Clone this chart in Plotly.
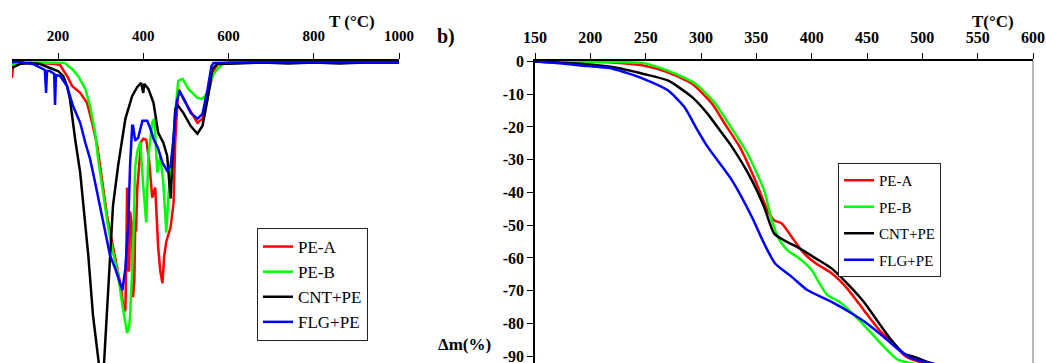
import plotly.graph_objects as go

W, H = 1046, 363


def fx(px):
    return px / W


def fy(py):
    return 1 - py / H


# ---------------- DTG (left panel), arbitrary units ----------------
dtg_red_T = [92, 95, 111, 158, 193, 205, 212, 221, 233, 252, 268, 280, 292, 304, 315, 327, 339, 348, 353, 358,
             360, 362, 365, 367, 369, 374, 376, 379, 381, 383, 386, 391, 395, 400, 407, 414, 421, 428, 435, 440,
             445, 449, 454, 464, 471, 475, 480, 482, 494, 511, 527, 539, 551, 565, 574, 605, 700, 800, 900, 1000]
dtg_red_v = [-1.6, -0.2, -0.1, -0.1, -0.2, -0.3, -0.8, -1.4, -2.4, -3.1, -4.1, -6.1, -8.4, -12.1, -15.4, -18.1, -20.7, -22.7, -24.6, -25.0,
             -20.0, -12.6, -21.0, -20.9, -15.0, -16.6, -23.6, -22.0, -16.6, -17.0, -12.6, -9.5, -8.0, -7.7, -7.8, -10.0, -13.6, -12.6, -18.6, -21.0,
             -22.2, -19.5, -18.0, -16.6, -14.2, -8.0, -3.5, -2.7, -3.7, -4.9, -6.1, -5.7, -3.4, -0.9, -0.2, -0.05, -0.05, -0.05, -0.05, -0.05]

dtg_green_T = [92, 111, 158, 200, 216, 224, 233, 247, 264, 275, 287, 294, 306, 318, 329, 341, 350, 358, 362, 367,
               369, 376, 381, 386, 393, 400, 407, 412, 421, 426, 433, 440, 447, 454, 459, 468, 475, 482, 492, 506,
               527, 539, 551, 562, 574, 586, 605, 700, 800, 900, 1000]
dtg_green_v = [-0.3, -0.1, -0.05, -0.05, -0.1, -0.4, -0.7, -1.4, -2.7, -4.4, -7.1, -9.7, -13.4, -16.7, -19.1, -21.4, -24.1, -26.1, -27.2, -26.5,
               -25.5, -19.0, -10.5, -9.0, -8.0, -12.5, -16.1, -9.4, -6.1, -5.7, -11.1, -9.4, -12.1, -17.1, -13.4, -9.4, -5.1, -1.9, -1.7, -2.7,
               -3.6, -3.7, -3.1, -1.4, -0.7, -0.2, -0.05, -0.0, -0.0, -0.0, -0.0]

dtg_black_T = [92, 111, 134, 158, 181, 200, 212, 221, 228, 240, 252, 264, 271, 282, 292, 299, 308, 313, 320, 329,
               341, 358, 374, 386, 395, 400, 402, 412, 424, 435, 447, 456, 464, 471, 475, 482, 494, 511, 527, 539,
               551, 562, 574, 620, 680, 740, 800, 860, 920, 1000]
dtg_black_v = [-0.6, -0.2, -0.1, -0.2, -0.6, -0.9, -1.4, -2.4, -3.7, -7.7, -11.1, -16.1, -19.4, -25.4, -28.7, -31.4, -30.2, -26.1, -20.7, -14.4,
               -10.4, -5.7, -3.4, -2.5, -2.1, -3.1, -2.2, -2.7, -4.1, -7.1, -8.1, -9.4, -13.7, -7.7, -4.7, -4.4, -5.1, -6.4, -7.2, -6.4,
               -3.7, -0.7, -0.2, -0.15, -0.05, -0.15, -0.05, -0.15, -0.05, -0.05]

dtg_blue_T = [92, 111, 141, 165, 169, 172, 174, 181, 191, 193, 195, 205, 221, 235, 252, 264, 275, 287, 299, 311,
              322, 334, 346, 351, 358, 365, 369, 374, 376, 381, 388, 398, 409, 416, 424, 435, 445, 456, 464, 471,
              478, 485, 494, 511, 527, 539, 551, 560, 565, 700, 850, 1000]
dtg_blue_v = [0.0, 0.0, -0.2, -0.7, -0.8, -3.1, -0.9, -0.9, -1.2, -4.3, -1.3, -1.4, -2.4, -4.4, -6.1, -8.1, -9.7, -12.1, -14.7, -17.4,
              -19.4, -20.7, -22.4, -22.9, -20.7, -16.1, -10.4, -6.4, -6.4, -7.9, -7.6, -5.9, -5.9, -6.6, -7.7, -8.7, -10.1, -10.9, -10.4, -7.7,
              -4.1, -2.9, -3.6, -5.1, -5.7, -5.2, -2.7, -0.4, -0.1, 0.0, 0.0, 0.0]

# ---------------- TG (right panel), mass change in % ----------------
tg_red_T = [150, 200, 220, 248, 270, 292, 310, 322, 335, 349, 360, 366, 373, 382, 393, 404, 418, 432, 447, 461,
            476, 485, 497, 510, 530, 560, 600]
tg_red_v = [0, -0.1, -0.3, -1.2, -3.3, -6.8, -12.9, -19.3, -26.1, -36.3, -45.4, -48.5, -49.5, -53.6, -58.6, -61.7, -64.7, -69.3, -75.9, -82.0,
            -87.1, -90.1, -91.7, -92.5, -93.5, -94.5, -95.0]

tg_green_T = [150, 220, 248, 270, 295, 313, 326, 342, 357, 364, 371, 378, 389, 400, 407, 414, 425, 440, 454, 468,
              477, 490, 510, 530, 560, 600]
tg_green_v = [0, -0.1, -0.5, -2.8, -6.8, -12.9, -19.5, -28.1, -39.3, -48.5, -54.6, -57.6, -60.2, -63.7, -67.8, -71.3, -73.4, -78.0, -83.0, -88.1,
              -90.9, -92.2, -93.0, -94.0, -95.0, -95.5]

tg_black_T = [150, 191, 220, 248, 270, 292, 306, 317, 328, 346, 357, 366, 375, 389, 404, 418, 432, 447, 461, 472,
              483, 494, 508, 530, 560, 600]
tg_black_v = [0, -0.7, -1.7, -3.8, -5.8, -10.9, -16.0, -21.0, -26.1, -36.3, -44.4, -52.5, -54.6, -57.1, -60.2, -63.2, -67.8, -73.4, -80.0, -85.1,
              -89.1, -90.4, -92.2, -93.5, -94.5, -95.0]

tg_blue_T = [150, 175, 191, 220, 248, 270, 285, 296, 306, 328, 346, 357, 367, 382, 396, 418, 436, 450, 465, 479,
             490, 508, 530, 560, 600]
tg_blue_v = [0, -0.6, -1.2, -2.2, -5.3, -8.8, -13.9, -20.5, -26.1, -36.3, -47.5, -55.6, -61.7, -65.8, -69.8, -73.4, -76.9, -80.0, -84.1, -88.1,
             -90.6, -92.2, -93.5, -94.5, -95.0]

names = ["PE-A", "PE-B", "CNT+PE", "FLG+PE"]
colors = ["#FF0000", "#00FF00", "#000000", "#0000FF"]

dtg_series = [(dtg_red_T, dtg_red_v), (dtg_green_T, dtg_green_v), (dtg_black_T, dtg_black_v), (dtg_blue_T, dtg_blue_v)]
tg_series = [(tg_red_T, tg_red_v), (tg_green_T, tg_green_v), (tg_black_T, tg_black_v), (tg_blue_T, tg_blue_v)]

left_x_ticks = [200, 400, 600, 800, 1000]
right_x_ticks = [150, 200, 250, 300, 350, 400, 450, 500, 550, 600]
right_y_ticks = [0, -10, -20, -30, -40, -50, -60, -70, -80, -90]
right_y_labels = ["0", "-10", "-20", "-30", "-40", "-50", "-60", "-70", "-80", "-90"]

SERIF = "Times New Roman, Liberation Serif, serif"

fig = go.Figure()
for i, (T, v) in enumerate(dtg_series):
    fig.add_trace(go.Scatter(x=T, y=v, mode="lines", name=names[i], legendgroup="a" + str(i),
                             line=dict(color=colors[i], width=2.5), xaxis="x", yaxis="y", legend="legend"))
for i, (T, v) in enumerate(tg_series):
    fig.add_trace(go.Scatter(x=T, y=v, mode="lines", name=names[i], legendgroup="b" + str(i),
                             line=dict(color=colors[i], width=2.5, shape="spline", smoothing=0.6),
                             xaxis="x2", yaxis="y2", legend="legend2"))

ytop = fy(61)
tickfont = dict(family=SERIF, size=15, color="black", weight="bold")
tickfont2 = dict(family=SERIF, size=16, color="black", weight="bold")


def label(text, px, py, size=17):
    return dict(text=text, x=fx(px), y=fy(py), xref="paper", yref="paper", showarrow=False,
                xanchor="center", yanchor="middle",
                font=dict(family=SERIF, size=size, color="black", weight="bold"))


fig.update_layout(
    template="none",
    width=W, height=H,
    margin=dict(l=0, r=0, t=0, b=0, pad=0, autoexpand=False),
    paper_bgcolor="white", plot_bgcolor="white",
    xaxis=dict(domain=[fx(12), fx(399)], range=[92, 1000], side="top", anchor="y", automargin=False,
               showline=True, linecolor="black", linewidth=1.5, ticks="outside", ticklen=6,
               tickcolor="black", tickwidth=1.2, tickvals=left_x_ticks, tickfont=tickfont,
               ticklabelstandoff=6, ticklabeloverflow="allow", showgrid=False, zeroline=False),
    yaxis=dict(domain=[0, ytop], range=[-30.2, 0.1], anchor="x", visible=False, automargin=False,
               showgrid=False, zeroline=False),
    xaxis2=dict(domain=[fx(535), fx(1033)], range=[150, 600], side="top", anchor="y2", automargin=False,
                showline=True, linecolor="black", linewidth=1.5, ticks="outside", ticklen=6,
                tickcolor="black", tickwidth=1.2, tickvals=right_x_ticks, tickfont=tickfont2,
                ticklabelstandoff=4, ticklabeloverflow="allow", showgrid=False, zeroline=False),
    yaxis2=dict(domain=[0, ytop], range=[-92.1, 0.15], anchor="x2", automargin=False,
                showline=True, linecolor="black", linewidth=1.5, ticks="outside", ticklen=6,
                tickcolor="black", tickwidth=1.2, tickvals=right_y_ticks, ticktext=right_y_labels,
                tickfont=tickfont2, ticklabeloverflow="allow", showgrid=False, zeroline=False),
    legend=dict(x=fx(257), y=fy(228), xanchor="left", yanchor="top",
                bgcolor="white", bordercolor="#222", borderwidth=1,
                font=dict(family=SERIF, size=17, color="black"), tracegroupgap=0),
    legend2=dict(x=fx(838), y=fy(163), xanchor="left", yanchor="top",
                 bgcolor="white", bordercolor="#222", borderwidth=1,
                 font=dict(family=SERIF, size=15, color="black"), tracegroupgap=4),
    shapes=[dict(type="line", xref="paper", yref="paper", x0=fx(1033), x1=fx(1033), y0=0, y1=ytop,
                 line=dict(color="#888888", width=1.2))],
    annotations=[
        label("T (°C)", 352, 22),
        label("T(°C)", 993, 22),
        label("b)", 446, 36, size=20),
        label("Δm(%)", 464, 344),
    ],
)

fig.write_html("out.html",
               config={"displayModeBar": False},
               post_script="document.body.style.margin='0';document.body.style.overflow='hidden';")
